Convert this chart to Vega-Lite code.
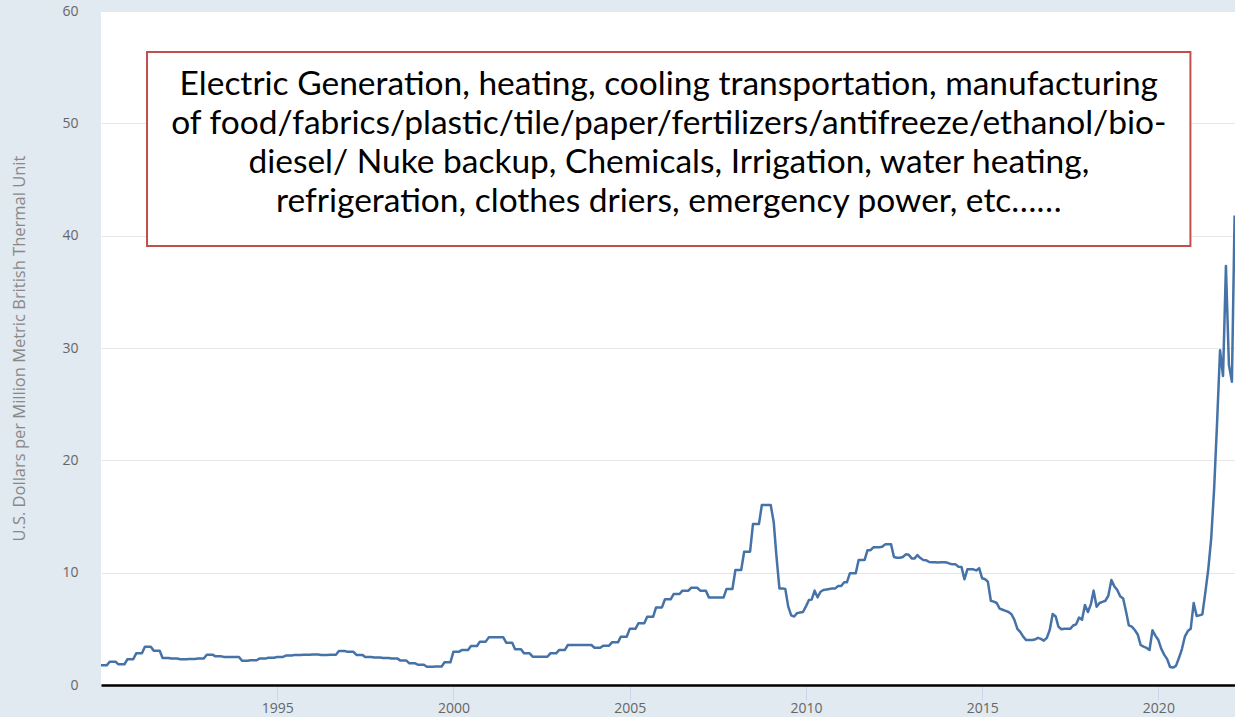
{
  "$schema": "https://vega.github.io/schema/vega-lite/v6.json",
  "width": 1134,
  "height": 674,
  "autosize": {"type": "none"},
  "padding": {"left": 101, "top": 11, "right": 0, "bottom": 32},
  "background": "#e1e9f1",
  "config": {"view": {"fill": "white", "stroke": null}},
  "datasets": {
    "gas": [
      {"d":"1990-01-01","v":1.75},{"d":"1990-02-01","v":1.75},{"d":"1990-03-01","v":1.75},{"d":"1990-04-01","v":2.07},{"d":"1990-05-01","v":2.07},{"d":"1990-06-01","v":2.07},{"d":"1990-07-01","v":1.84},{"d":"1990-08-01","v":1.84},{"d":"1990-09-01","v":1.84},{"d":"1990-10-01","v":2.29},{"d":"1990-11-01","v":2.29},{"d":"1990-12-01","v":2.29},
      {"d":"1991-01-01","v":2.82},{"d":"1991-02-01","v":2.82},{"d":"1991-03-01","v":2.82},{"d":"1991-04-01","v":3.4},{"d":"1991-05-01","v":3.4},{"d":"1991-06-01","v":3.4},{"d":"1991-07-01","v":3.06},{"d":"1991-08-01","v":3.06},{"d":"1991-09-01","v":3.06},{"d":"1991-10-01","v":2.4},{"d":"1991-11-01","v":2.4},{"d":"1991-12-01","v":2.4},
      {"d":"1992-01-01","v":2.35},{"d":"1992-02-01","v":2.35},{"d":"1992-03-01","v":2.35},{"d":"1992-04-01","v":2.3},{"d":"1992-05-01","v":2.3},{"d":"1992-06-01","v":2.3},{"d":"1992-07-01","v":2.32},{"d":"1992-08-01","v":2.32},{"d":"1992-09-01","v":2.32},{"d":"1992-10-01","v":2.35},{"d":"1992-11-01","v":2.35},{"d":"1992-12-01","v":2.35},
      {"d":"1993-01-01","v":2.7},{"d":"1993-02-01","v":2.7},{"d":"1993-03-01","v":2.7},{"d":"1993-04-01","v":2.55},{"d":"1993-05-01","v":2.55},{"d":"1993-06-01","v":2.55},{"d":"1993-07-01","v":2.5},{"d":"1993-08-01","v":2.5},{"d":"1993-09-01","v":2.5},{"d":"1993-10-01","v":2.5},{"d":"1993-11-01","v":2.5},{"d":"1993-12-01","v":2.5},
      {"d":"1994-01-01","v":2.16},{"d":"1994-02-01","v":2.16},{"d":"1994-03-01","v":2.16},{"d":"1994-04-01","v":2.2},{"d":"1994-05-01","v":2.2},{"d":"1994-06-01","v":2.2},{"d":"1994-07-01","v":2.35},{"d":"1994-08-01","v":2.35},{"d":"1994-09-01","v":2.35},{"d":"1994-10-01","v":2.42},{"d":"1994-11-01","v":2.42},{"d":"1994-12-01","v":2.42},
      {"d":"1995-01-01","v":2.5},{"d":"1995-02-01","v":2.5},{"d":"1995-03-01","v":2.5},{"d":"1995-04-01","v":2.62},{"d":"1995-05-01","v":2.62},{"d":"1995-06-01","v":2.62},{"d":"1995-07-01","v":2.68},{"d":"1995-08-01","v":2.68},{"d":"1995-09-01","v":2.68},{"d":"1995-10-01","v":2.7},{"d":"1995-11-01","v":2.7},{"d":"1995-12-01","v":2.7},
      {"d":"1996-01-01","v":2.72},{"d":"1996-02-01","v":2.72},{"d":"1996-03-01","v":2.72},{"d":"1996-04-01","v":2.68},{"d":"1996-05-01","v":2.68},{"d":"1996-06-01","v":2.68},{"d":"1996-07-01","v":2.7},{"d":"1996-08-01","v":2.7},{"d":"1996-09-01","v":2.7},{"d":"1996-10-01","v":3.03},{"d":"1996-11-01","v":3.03},{"d":"1996-12-01","v":3.03},
      {"d":"1997-01-01","v":2.95},{"d":"1997-02-01","v":2.95},{"d":"1997-03-01","v":2.95},{"d":"1997-04-01","v":2.68},{"d":"1997-05-01","v":2.68},{"d":"1997-06-01","v":2.68},{"d":"1997-07-01","v":2.5},{"d":"1997-08-01","v":2.5},{"d":"1997-09-01","v":2.5},{"d":"1997-10-01","v":2.45},{"d":"1997-11-01","v":2.45},{"d":"1997-12-01","v":2.45},
      {"d":"1998-01-01","v":2.4},{"d":"1998-02-01","v":2.4},{"d":"1998-03-01","v":2.4},{"d":"1998-04-01","v":2.35},{"d":"1998-05-01","v":2.35},{"d":"1998-06-01","v":2.35},{"d":"1998-07-01","v":2.17},{"d":"1998-08-01","v":2.17},{"d":"1998-09-01","v":2.17},{"d":"1998-10-01","v":1.93},{"d":"1998-11-01","v":1.93},{"d":"1998-12-01","v":1.93},
      {"d":"1999-01-01","v":1.8},{"d":"1999-02-01","v":1.8},{"d":"1999-03-01","v":1.8},{"d":"1999-04-01","v":1.63},{"d":"1999-05-01","v":1.63},{"d":"1999-06-01","v":1.63},{"d":"1999-07-01","v":1.65},{"d":"1999-08-01","v":1.65},{"d":"1999-09-01","v":1.65},{"d":"1999-10-01","v":2.02},{"d":"1999-11-01","v":2.02},{"d":"1999-12-01","v":2.02},
      {"d":"2000-01-01","v":2.97},{"d":"2000-02-01","v":2.97},{"d":"2000-03-01","v":2.97},{"d":"2000-04-01","v":3.12},{"d":"2000-05-01","v":3.12},{"d":"2000-06-01","v":3.12},{"d":"2000-07-01","v":3.47},{"d":"2000-08-01","v":3.47},{"d":"2000-09-01","v":3.47},{"d":"2000-10-01","v":3.86},{"d":"2000-11-01","v":3.86},{"d":"2000-12-01","v":3.86},
      {"d":"2001-01-01","v":4.24},{"d":"2001-02-01","v":4.24},{"d":"2001-03-01","v":4.24},{"d":"2001-04-01","v":4.24},{"d":"2001-05-01","v":4.24},{"d":"2001-06-01","v":4.24},{"d":"2001-07-01","v":3.77},{"d":"2001-08-01","v":3.77},{"d":"2001-09-01","v":3.77},{"d":"2001-10-01","v":3.18},{"d":"2001-11-01","v":3.18},{"d":"2001-12-01","v":3.18},
      {"d":"2002-01-01","v":2.82},{"d":"2002-02-01","v":2.82},{"d":"2002-03-01","v":2.82},{"d":"2002-04-01","v":2.52},{"d":"2002-05-01","v":2.52},{"d":"2002-06-01","v":2.52},{"d":"2002-07-01","v":2.52},{"d":"2002-08-01","v":2.52},{"d":"2002-09-01","v":2.52},{"d":"2002-10-01","v":2.82},{"d":"2002-11-01","v":2.82},{"d":"2002-12-01","v":2.82},
      {"d":"2003-01-01","v":3.12},{"d":"2003-02-01","v":3.12},{"d":"2003-03-01","v":3.12},{"d":"2003-04-01","v":3.56},{"d":"2003-05-01","v":3.56},{"d":"2003-06-01","v":3.56},{"d":"2003-07-01","v":3.56},{"d":"2003-08-01","v":3.56},{"d":"2003-09-01","v":3.56},{"d":"2003-10-01","v":3.56},{"d":"2003-11-01","v":3.56},{"d":"2003-12-01","v":3.56},
      {"d":"2004-01-01","v":3.32},{"d":"2004-02-01","v":3.32},{"d":"2004-03-01","v":3.32},{"d":"2004-04-01","v":3.5},{"d":"2004-05-01","v":3.5},{"d":"2004-06-01","v":3.5},{"d":"2004-07-01","v":3.8},{"d":"2004-08-01","v":3.8},{"d":"2004-09-01","v":3.8},{"d":"2004-10-01","v":4.3},{"d":"2004-11-01","v":4.3},{"d":"2004-12-01","v":4.3},
      {"d":"2005-01-01","v":5.0},{"d":"2005-02-01","v":5.0},{"d":"2005-03-01","v":5.0},{"d":"2005-04-01","v":5.5},{"d":"2005-05-01","v":5.5},{"d":"2005-06-01","v":5.5},{"d":"2005-07-01","v":6.08},{"d":"2005-08-01","v":6.08},{"d":"2005-09-01","v":6.08},{"d":"2005-10-01","v":6.91},{"d":"2005-11-01","v":6.91},{"d":"2005-12-01","v":6.91},
      {"d":"2006-01-01","v":7.63},{"d":"2006-02-01","v":7.63},{"d":"2006-03-01","v":7.63},{"d":"2006-04-01","v":8.1},{"d":"2006-05-01","v":8.1},{"d":"2006-06-01","v":8.1},{"d":"2006-07-01","v":8.4},{"d":"2006-08-01","v":8.4},{"d":"2006-09-01","v":8.4},{"d":"2006-10-01","v":8.66},{"d":"2006-11-01","v":8.66},{"d":"2006-12-01","v":8.66},
      {"d":"2007-01-01","v":8.4},{"d":"2007-02-01","v":8.4},{"d":"2007-03-01","v":8.4},{"d":"2007-04-01","v":7.8},{"d":"2007-05-01","v":7.8},{"d":"2007-06-01","v":7.8},{"d":"2007-07-01","v":7.8},{"d":"2007-08-01","v":7.8},{"d":"2007-09-01","v":7.8},{"d":"2007-10-01","v":8.55},{"d":"2007-11-01","v":8.55},{"d":"2007-12-01","v":8.55},
      {"d":"2008-01-01","v":10.24},{"d":"2008-02-01","v":10.24},{"d":"2008-03-01","v":10.24},{"d":"2008-04-01","v":11.87},{"d":"2008-05-01","v":11.87},{"d":"2008-06-01","v":11.87},{"d":"2008-07-01","v":14.33},{"d":"2008-08-01","v":14.33},{"d":"2008-09-01","v":14.33},{"d":"2008-10-01","v":16.02},{"d":"2008-11-01","v":16.02},{"d":"2008-12-01","v":16.02},
      {"d":"2009-01-01","v":16.02},{"d":"2009-02-01","v":14.5},{"d":"2009-03-01","v":11.5},{"d":"2009-04-01","v":8.6},{"d":"2009-05-01","v":8.6},{"d":"2009-06-01","v":8.55},{"d":"2009-07-01","v":7.0},{"d":"2009-08-01","v":6.2},{"d":"2009-09-01","v":6.1},{"d":"2009-10-01","v":6.4},{"d":"2009-11-01","v":6.45},{"d":"2009-12-01","v":6.5},
      {"d":"2010-01-01","v":7.0},{"d":"2010-02-01","v":7.57},{"d":"2010-03-01","v":7.6},{"d":"2010-04-01","v":8.4},{"d":"2010-05-01","v":7.8},{"d":"2010-06-01","v":8.3},{"d":"2010-07-01","v":8.46},{"d":"2010-08-01","v":8.5},{"d":"2010-09-01","v":8.55},{"d":"2010-10-01","v":8.6},{"d":"2010-11-01","v":8.6},{"d":"2010-12-01","v":8.81},
      {"d":"2011-01-01","v":8.81},{"d":"2011-02-01","v":9.14},{"d":"2011-03-01","v":9.14},{"d":"2011-04-01","v":9.94},{"d":"2011-05-01","v":9.94},{"d":"2011-06-01","v":9.94},{"d":"2011-07-01","v":11.13},{"d":"2011-08-01","v":11.13},{"d":"2011-09-01","v":11.13},{"d":"2011-10-01","v":12.0},{"d":"2011-11-01","v":12.0},{"d":"2011-12-01","v":12.26},
      {"d":"2012-01-01","v":12.26},{"d":"2012-02-01","v":12.26},{"d":"2012-03-01","v":12.3},{"d":"2012-04-01","v":12.52},{"d":"2012-05-01","v":12.52},{"d":"2012-06-01","v":12.52},{"d":"2012-07-01","v":11.4},{"d":"2012-08-01","v":11.33},{"d":"2012-09-01","v":11.33},{"d":"2012-10-01","v":11.4},{"d":"2012-11-01","v":11.63},{"d":"2012-12-01","v":11.6},
      {"d":"2013-01-01","v":11.27},{"d":"2013-02-01","v":11.27},{"d":"2013-03-01","v":11.57},{"d":"2013-04-01","v":11.3},{"d":"2013-05-01","v":11.13},{"d":"2013-06-01","v":11.1},{"d":"2013-07-01","v":10.95},{"d":"2013-08-01","v":10.92},{"d":"2013-09-01","v":10.92},{"d":"2013-10-01","v":10.9},{"d":"2013-11-01","v":10.92},{"d":"2013-12-01","v":10.92},
      {"d":"2014-01-01","v":10.9},{"d":"2014-02-01","v":10.8},{"d":"2014-03-01","v":10.74},{"d":"2014-04-01","v":10.74},{"d":"2014-05-01","v":10.53},{"d":"2014-06-01","v":10.5},{"d":"2014-07-01","v":9.41},{"d":"2014-08-01","v":10.3},{"d":"2014-09-01","v":10.3},{"d":"2014-10-01","v":10.3},{"d":"2014-11-01","v":10.2},{"d":"2014-12-01","v":10.4},
      {"d":"2015-01-01","v":9.5},{"d":"2015-02-01","v":9.41},{"d":"2015-03-01","v":9.2},{"d":"2015-04-01","v":7.5},{"d":"2015-05-01","v":7.42},{"d":"2015-06-01","v":7.3},{"d":"2015-07-01","v":6.8},{"d":"2015-08-01","v":6.7},{"d":"2015-09-01","v":6.6},{"d":"2015-10-01","v":6.5},{"d":"2015-11-01","v":6.3},{"d":"2015-12-01","v":5.8},
      {"d":"2016-01-01","v":5.0},{"d":"2016-02-01","v":4.7},{"d":"2016-03-01","v":4.3},{"d":"2016-04-01","v":4.0},{"d":"2016-05-01","v":4.0},{"d":"2016-06-01","v":4.0},{"d":"2016-07-01","v":4.05},{"d":"2016-08-01","v":4.2},{"d":"2016-09-01","v":4.1},{"d":"2016-10-01","v":3.95},{"d":"2016-11-01","v":4.2},{"d":"2016-12-01","v":4.9},
      {"d":"2017-01-01","v":6.32},{"d":"2017-02-01","v":6.1},{"d":"2017-03-01","v":5.2},{"d":"2017-04-01","v":4.96},{"d":"2017-05-01","v":5.0},{"d":"2017-06-01","v":5.0},{"d":"2017-07-01","v":5.0},{"d":"2017-08-01","v":5.3},{"d":"2017-09-01","v":5.4},{"d":"2017-10-01","v":6.0},{"d":"2017-11-01","v":5.8},{"d":"2017-12-01","v":7.12},
      {"d":"2018-01-01","v":6.5},{"d":"2018-02-01","v":7.2},{"d":"2018-03-01","v":8.4},{"d":"2018-04-01","v":6.97},{"d":"2018-05-01","v":7.3},{"d":"2018-06-01","v":7.4},{"d":"2018-07-01","v":7.5},{"d":"2018-08-01","v":7.96},{"d":"2018-09-01","v":9.35},{"d":"2018-10-01","v":8.8},{"d":"2018-11-01","v":8.46},{"d":"2018-12-01","v":7.9},
      {"d":"2019-01-01","v":7.7},{"d":"2019-02-01","v":6.5},{"d":"2019-03-01","v":5.3},{"d":"2019-04-01","v":5.19},{"d":"2019-05-01","v":4.9},{"d":"2019-06-01","v":4.5},{"d":"2019-07-01","v":3.56},{"d":"2019-08-01","v":3.41},{"d":"2019-09-01","v":3.3},{"d":"2019-10-01","v":3.12},{"d":"2019-11-01","v":4.87},{"d":"2019-12-01","v":4.4},
      {"d":"2020-01-01","v":4.0},{"d":"2020-02-01","v":3.2},{"d":"2020-03-01","v":2.7},{"d":"2020-04-01","v":2.3},{"d":"2020-05-01","v":1.6},{"d":"2020-06-01","v":1.55},{"d":"2020-07-01","v":1.7},{"d":"2020-08-01","v":2.4},{"d":"2020-09-01","v":3.2},{"d":"2020-10-01","v":4.3},{"d":"2020-11-01","v":4.8},{"d":"2020-12-01","v":5.0},
      {"d":"2021-01-01","v":7.3},{"d":"2021-02-01","v":6.15},{"d":"2021-03-01","v":6.2},{"d":"2021-04-01","v":6.3},{"d":"2021-05-01","v":8.2},{"d":"2021-06-01","v":10.3},{"d":"2021-07-01","v":13.0},{"d":"2021-08-01","v":17.5},{"d":"2021-09-01","v":23.5},{"d":"2021-10-01","v":29.8},{"d":"2021-11-01","v":27.5},{"d":"2021-12-01","v":37.3},
      {"d":"2022-01-01","v":28.5},{"d":"2022-02-01","v":27.0},{"d":"2022-03-01","v":41.8}
    ],
    "box": [{"d": "1991-04-23", "d2": "2020-11-28", "v": 56.35, "v2": 39.08}],
    "note": [{"d": "2006-02-10", "v": 53.4}]
  },
  "layer": [
    {
      "data": {"name": "gas"},
      "mark": {"type": "line", "color": "#4572a7", "strokeWidth": 2.5, "strokeJoin": "round"},
      "encoding": {
        "x": {
          "field": "d", "type": "temporal",
          "scale": {"type": "utc", "domain": [{"year": 1990, "month": 1, "date": 1, "utc": true}, {"year": 2022, "month": 3, "date": 5, "utc": true}]},
          "axis": {
            "title": null,
            "values": [{"year": 1995, "utc": true}, {"year": 2000, "utc": true}, {"year": 2005, "utc": true}, {"year": 2010, "utc": true}, {"year": 2015, "utc": true}, {"year": 2020, "utc": true}],
            "format": "%Y",
            "grid": false,
            "domainColor": "#000000",
            "domainWidth": 2.5,
            "tickColor": "#ccd6eb",
            "tickSize": 15,
            "tickWidth": 1,
            "labelColor": "#666666",
            "labelFont": "Open Sans",
            "labelFontSize": 14,
            "labelPadding": 1
          }
        },
        "y": {
          "field": "v", "type": "quantitative",
          "scale": {"domain": [0, 60], "nice": false},
          "axis": {
            "title": "U.S. Dollars per Million Metric British Thermal Unit",
            "values": [0, 10, 20, 30, 40, 50, 60],
            "grid": true,
            "gridColor": "#e6e6e6",
            "gridWidth": 1,
            "domain": false,
            "ticks": false,
            "tickSize": 0,
            "labelPadding": 23,
            "labelColor": "#666666",
            "labelFont": "Open Sans",
            "labelFontSize": 14,
            "titleColor": "#888888",
            "titleFont": "Open Sans",
            "titleFontSize": 16.5,
            "titleFontWeight": "normal",
            "titlePadding": 34
          }
        }
      }
    },
    {
      "data": {"name": "box"},
      "mark": {"type": "rect", "fill": "white", "stroke": "#c0504d", "strokeWidth": 2},
      "encoding": {
        "x": {"field": "d", "type": "temporal"},
        "x2": {"field": "d2"},
        "y": {"field": "v", "type": "quantitative"},
        "y2": {"field": "v2"}
      }
    },
    {
      "data": {"name": "note"},
      "mark": {
        "type": "text",
        "text": [
          "Electric Generation, heating, cooling transportation, manufacturing",
          "of food/fabrics/plastic/tile/paper/fertilizers/antifreeze/ethanol/bio-",
          "diesel/ Nuke backup, Chemicals, Irrigation, water heating,",
          "refrigeration, clothes driers,  emergency power, etc……"
        ],
        "font": "Lato",
        "fontSize": 33.5,
        "lineHeight": 39,
        "align": "center",
        "baseline": "middle",
        "color": "#000000"
      },
      "encoding": {
        "x": {"field": "d", "type": "temporal"},
        "y": {"field": "v", "type": "quantitative"}
      }
    }
  ]
}
